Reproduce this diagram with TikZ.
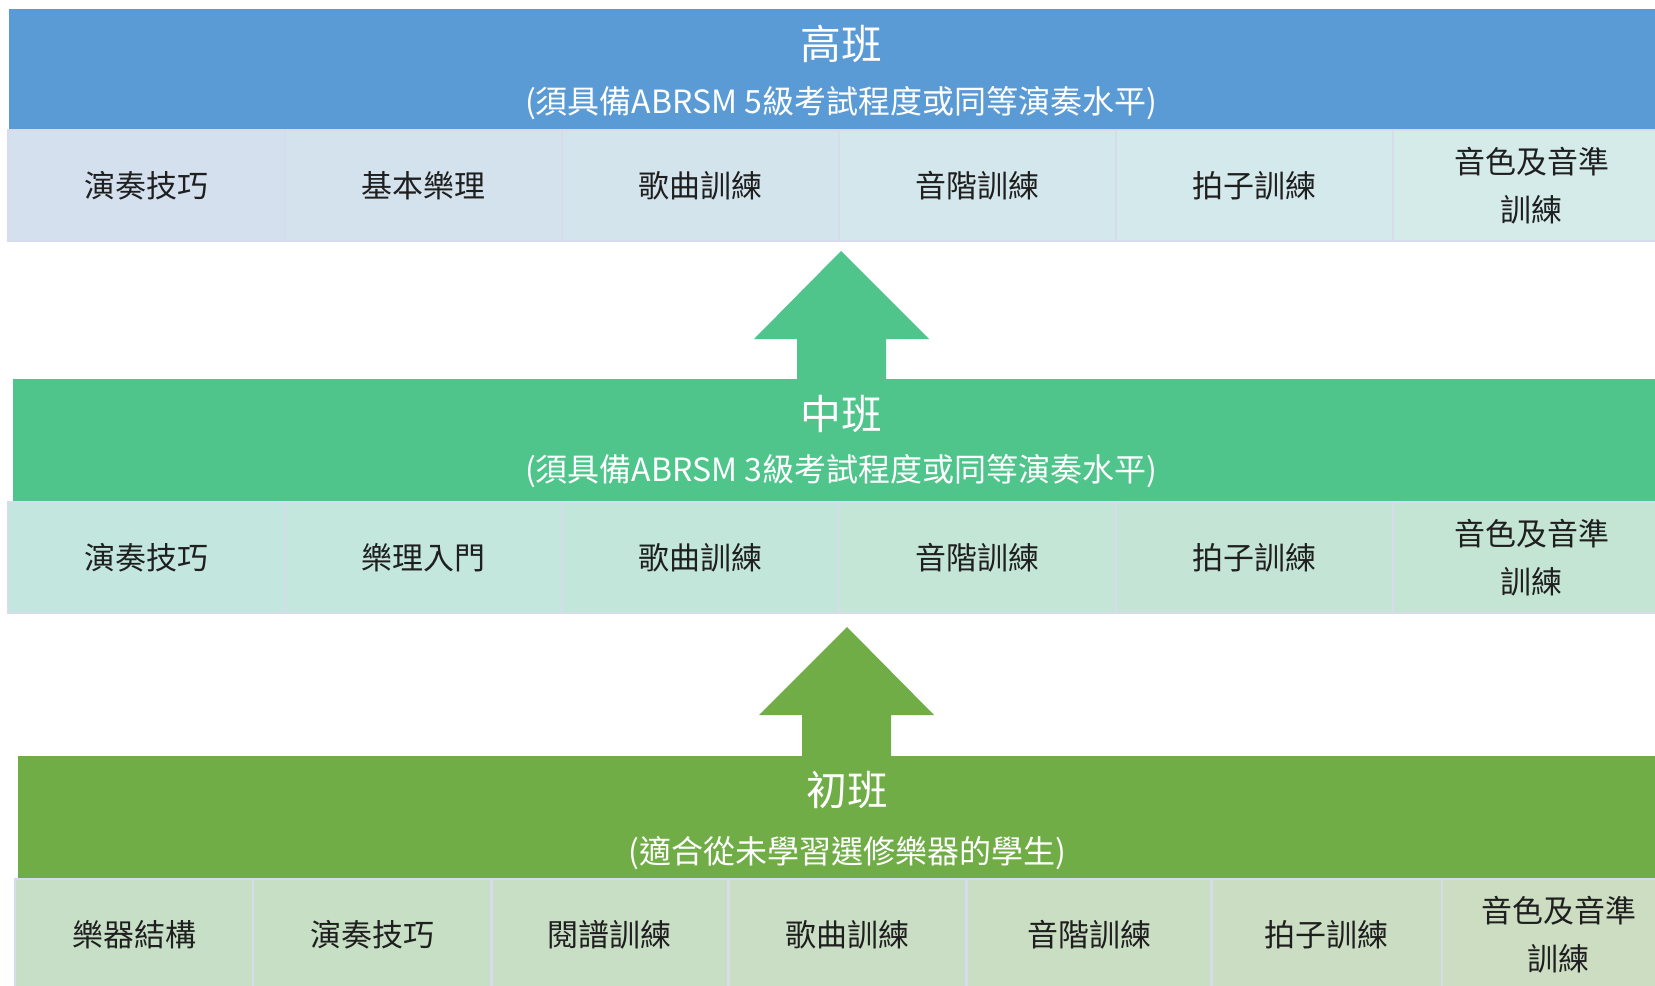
\documentclass[tikz,border=0pt]{standalone}
\usepackage{fontspec}
\setmainfont{Noto Sans CJK TC}
\usetikzlibrary{positioning}

\definecolor{hiband}{HTML}{5B9BD5}
\definecolor{midband}{HTML}{4FC58B}
\definecolor{loband}{HTML}{70AD47}
\definecolor{hicL}{HTML}{D4E0EE}
\definecolor{hicR}{HTML}{D4EBEA}
\definecolor{midcL}{HTML}{C3E7DE}
\definecolor{midcR}{HTML}{C4E5D3}
\definecolor{locL}{HTML}{C6DFC6}
\definecolor{locR}{HTML}{CCDDC1}
\definecolor{cellline}{HTML}{D6DCEC}

\begin{document}
\begin{tikzpicture}[x=0.01cm, y=-0.01cm,
  band/.style={anchor=north west, inner sep=0pt, minimum width=16.8cm, minimum height=1.22cm},
  cell/.style={draw=cellline, line width=0.7pt, inner sep=0pt, outer sep=0pt, minimum width=2.77cm,
    minimum height=1.11cm, align=center, text=black!88,
    font=\fontsize{8.8}{13.8}\selectfont},
  title/.style={text=white, font=\fontsize{11.6}{14}\selectfont},
  subtitle/.style={text=white, font=\fontsize{9.1}{11}\selectfont}]
\useasboundingbox (0,0) rectangle (1655,985);
\clip (0,0) rectangle (1655,985);

% top level
\node[band, fill=hiband] (hi) at (8,8) {};
\node[title] (hiT) at (841,44) {高班};
\node[subtitle] (hiS) at (841,103) {(須具備ABRSM 5級考試程度或同等演奏水平)};
\foreach \t [count=\i] in {演奏技巧,基本樂理,歌曲訓練,音階訓練,拍子訓練,{音色及音準\\訓練}}{
  \pgfmathtruncatemacro\m{100-20*(\i-1)}
  \node[cell, fill=hicL!\m!hicR, anchor=north west] (hi\i) at ({8+277*(\i-1)},130) {\t};
}

% arrow up to top level
\fill[midband] (841,251) -- (929,339) -- (886,339) -- (886,380) -- (797,380) -- (797,339) -- (754,339) -- cycle;

% middle level
\node[band, fill=midband] (mid) at (12,378) {};
\node[title] (midT) at (841,414) {中班};
\node[subtitle] (midS) at (841,471) {(須具備ABRSM 3級考試程度或同等演奏水平)};
\foreach \t [count=\i] in {演奏技巧,樂理入門,歌曲訓練,音階訓練,拍子訓練,{音色及音準\\訓練}}{
  \pgfmathtruncatemacro\m{100-20*(\i-1)}
  \node[cell, fill=midcL!\m!midcR, anchor=north west] (mid\i) at ({8+277*(\i-1)},502) {\t};
}

% arrow up to middle level
\fill[loband] (847,627) -- (934,715) -- (891,715) -- (891,757) -- (802,757) -- (802,715) -- (759,715) -- cycle;

% bottom level
\node[band, fill=loband] (lo) at (17,755) {};
\node[title] (loT) at (847,790) {初班};
\node[subtitle] (loS) at (847,853) {(適合從未學習選修樂器的學生)};
\node[cell, fill=locL, anchor=north west, minimum width=2.38cm] (lo1) at (15,879) {樂器結構};
\node[cell, fill=locL!85!locR, right=0pt of lo1, minimum width=2.38cm] (lo2) {演奏技巧};
\node[cell, fill=locL!70!locR, right=0pt of lo2, minimum width=2.37cm] (lo3) {閱譜訓練};
\node[cell, fill=locL!55!locR, right=0pt of lo3, minimum width=2.38cm] (lo4) {歌曲訓練};
\node[cell, fill=locL!40!locR, right=0pt of lo4, minimum width=2.45cm] (lo5) {音階訓練};
\node[cell, fill=locL!20!locR, right=0pt of lo5, minimum width=2.30cm] (lo6) {拍子訓練};
\node[cell, fill=locR, right=0pt of lo6, minimum width=2.34cm] (lo7) {音色及音準\\訓練};
\end{tikzpicture}
\end{document}
